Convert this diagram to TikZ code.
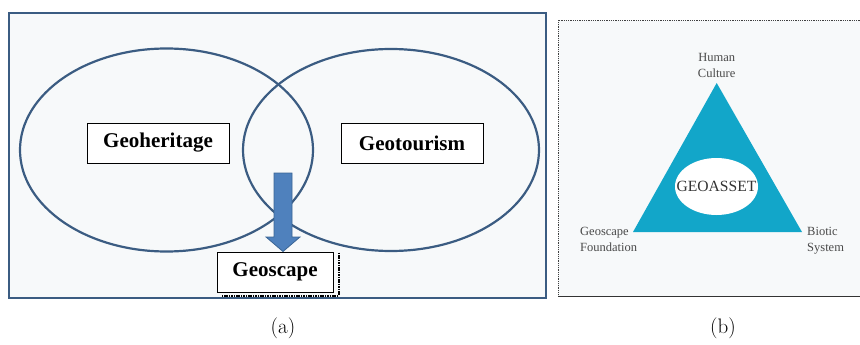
\documentclass[tikz,border=0pt]{standalone}
\usepackage{fontspec}
\setmainfont{Liberation Serif}
\newfontfamily\lmfont{Latin Modern Roman}
\usetikzlibrary{shapes.geometric}
\definecolor{framebg}{HTML}{F7F9FA}
\definecolor{vennline}{HTML}{3B5C82}
\definecolor{arrowfill}{HTML}{4F81BD}
\definecolor{arrowline}{HTML}{3A6595}
\definecolor{tricol}{HTML}{12A6C9}
\definecolor{labgray}{HTML}{4A4A4A}
\tikzset{
  venn/.style={ellipse, draw=vennline, line width=2.2pt, inner sep=0pt},
  labelbox/.style={draw=black, line width=1pt, fill=white, minimum height=40pt, inner sep=0pt,
     font=\fontsize{21}{24}\selectfont\bfseries},
  cornerlab/.style={font=\fontsize{12.5}{16.5}\selectfont, text=labgray, inner sep=0pt},
  caption/.style={font=\lmfont\fontsize{21}{24}\selectfont, inner sep=0pt},
  boxshadow/.style={black, line width=2pt, dash pattern=on 1.6pt off 0.8pt}
}
\begin{document}
\begin{tikzpicture}[x=1pt,y=-1pt]
\useasboundingbox (0,0) rectangle (860,345);
\fill[white] (0,0) rectangle (860,345);
% frame (a)
\draw[draw=vennline, fill=framebg, line width=2pt] (9,13) rectangle (546,298);
% frame (b)
\fill[framebg] (558,20) rectangle (862,296);
\draw[draw=black!75, line width=0.8pt, densely dotted] (862,20) -- (558,20) -- (558,296);
\draw[draw=black!80, line width=1pt] (558,296) -- (862,296);
% venn
\node[venn, minimum width=293pt, minimum height=203pt] (left) at (166.5,150) {};
\node[venn, minimum width=296pt, minimum height=202pt] (right) at (391,150) {};
% boxes
\node[labelbox, minimum width=142pt] (geoher) at (158,143) {Geoheritage};
\node[labelbox, minimum width=142pt] (geotour) at (412,143) {Geotourism};
% geoscape with shadow
\node[labelbox, minimum width=116pt] (geoscape) at (275,272) {Geoscape};
\draw[boxshadow] ([xshift=5pt,yshift=-1pt]geoscape.north east) -- ([xshift=5pt,yshift=-3pt]geoscape.south east) -- ([xshift=5pt,yshift=-3pt]geoscape.south west);
% arrow
\coordinate (atop) at (283,173);
\coordinate (tip) at (atop |- geoscape.north);
\draw[fill=arrowfill, draw=arrowline, line width=0.8pt]
  ([xshift=-9pt]atop) -- ([xshift=9pt]atop) -- (292,237) -- (300,237) -- (tip) -- (266,237) -- (274,237) -- cycle;
% triangle
\coordinate (apex) at (716.7,83);
\coordinate (bl) at (633,232);
\coordinate (br) at (802,232);
\fill[tricol] (apex) -- (br) -- (bl) -- cycle;
\node[ellipse, fill=white, minimum width=83pt, minimum height=57pt, inner sep=0pt] (asset) at (716.5,186.5) {};
\node[font=\fontsize{15.6}{18}\selectfont, text=black!80, inner sep=0pt] (assetlab) at (asset.center) {GEOASSET};
\node[cornerlab, align=center, anchor=south] (human) at ([yshift=5pt]apex) {Human\\Culture};
\node[cornerlab, align=left, anchor=north west] (geof) at (580,227) {Geoscape\\Foundation};
\node[cornerlab, align=left, anchor=north west] (biotic) at (807,227) {Biotic\\System};
% captions
\node[caption] (capa) at (283,328) {(a)};
\node[caption] (capb) at (723,328) {(b)};
\end{tikzpicture}
\end{document}
